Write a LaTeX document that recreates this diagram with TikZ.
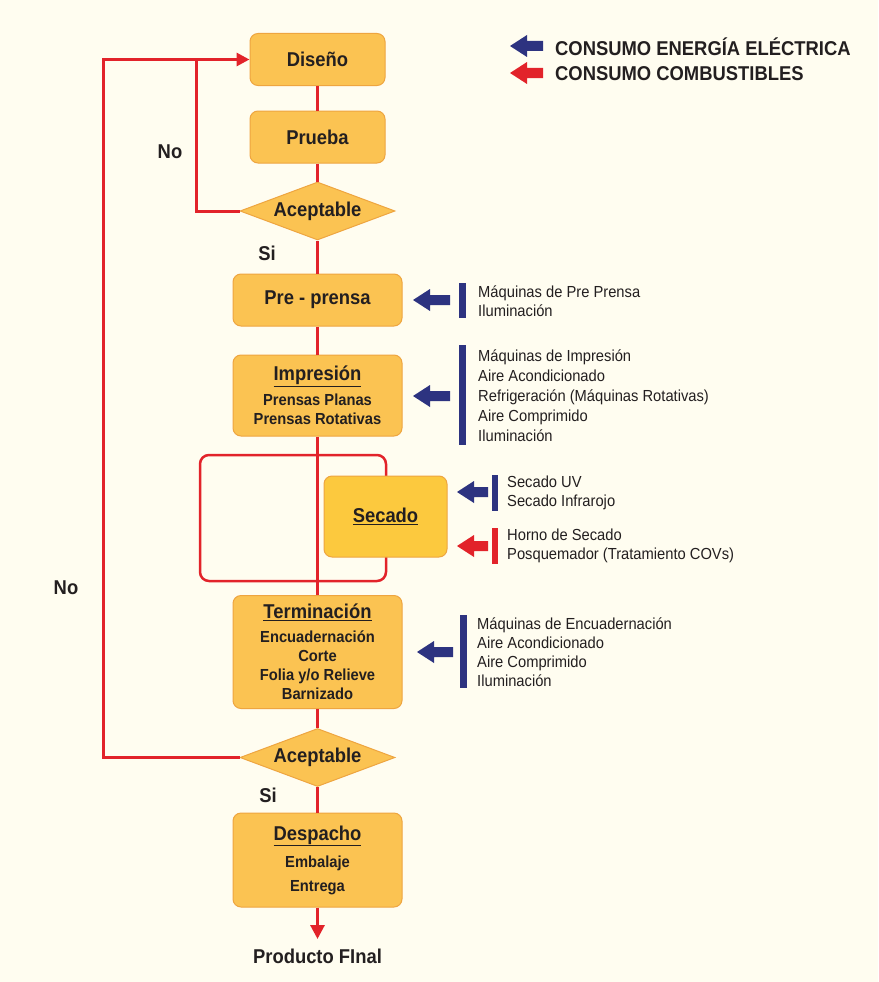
\documentclass[tikz,border=0pt]{standalone}
\usepackage{fontspec}
\setmainfont{Liberation Sans}[FakeStretch=0.92]
\usetikzlibrary{shapes.geometric,arrows.meta}
\definecolor{bgc}{HTML}{FFFDF0}
\definecolor{boxc}{HTML}{FBC352}
\definecolor{secc}{HTML}{FCC93E}
\definecolor{bordc}{HTML}{EEA540}
\definecolor{redc}{HTML}{E2232A}
\definecolor{bluec}{HTML}{2D3380}
\definecolor{txtc}{HTML}{231F20}
\newcommand\blk[4]{\fill[#4] (#1,#2) -- ++(17,-11) -- ++(0,6) -- ++(#3-17,0) -- ++(0,10) -- ++(-#3+17,0) -- ++(0,6) -- cycle;}
\begin{document}
\begin{tikzpicture}[x=1pt,y=-1pt,
  every node/.style={text=txtc},
  proc/.style={draw=bordc,line width=1pt,fill=boxc,rounded corners=8pt,inner sep=0pt,align=center,
     font=\bfseries\fontsize{20}{24}\selectfont},
  dec/.style={draw=bordc,line width=1pt,fill=boxc,diamond,shape aspect=2.67,inner sep=0pt,minimum width=155pt,minimum height=58pt,
     font=\bfseries\fontsize{20}{24}\selectfont},
  flow/.style={draw=redc,line width=3pt},
  lbl/.style={font=\bfseries\fontsize{20}{24}\selectfont},
  small/.style={font=\fontsize{16}{20}\selectfont,align=left,anchor=west,inner sep=0pt},
]
\fill[bgc] (0,0) rectangle (878,982);
\useasboundingbox (0,0) rectangle (878,982);

% legend
\blk{510}{46}{33}{bluec}
\blk{510}{73}{33}{redc}
\node[lbl,anchor=west,inner sep=0pt] (leg1) at (555,47) {CONSUMO ENERGÍA ELÉCTRICA};
\node[lbl,anchor=west,inner sep=0pt] (leg2) at (555,74) {CONSUMO COMBUSTIBLES};

% loop rectangle around secado
\draw[redc,line width=2.5pt,rounded corners=9pt] (200,455) rectangle (386,581);

% nodes
\node[proc,minimum width=135pt,minimum height=52pt] (dis) at (317.5,59.5) {Diseño};
\node[proc,minimum width=135pt,minimum height=52pt] (pru) at (317.5,137) {Prueba};
\node[dec] (ac1) at (317.5,211) {Aceptable};
\node[proc,minimum width=169pt,minimum height=52pt] (pre) at (317.5,300) {Pre - prensa};
\node[proc,minimum width=169pt,minimum height=81pt] (imp) at (317.5,395.5)
  {\underline{Impresión}\\[1pt]{\fontsize{16}{18}\selectfont Prensas Planas}\\[-5pt]{\fontsize{16}{18}\selectfont Prensas Rotativas}};
\node[proc,fill=secc,minimum width=123pt,minimum height=81pt] (sec) at (385.5,516.5) {\underline{Secado}};
\node[proc,minimum width=169pt,minimum height=113pt] (ter) at (317.5,652)
  {\underline{Terminación}\\[0pt]{\fontsize{16}{18}\selectfont Encuadernación}\\[-5pt]{\fontsize{16}{18}\selectfont Corte}\\[-5pt]{\fontsize{16}{18}\selectfont Folia y/o Relieve}\\[-5pt]{\fontsize{16}{18}\selectfont Barnizado}};
\node[dec] (ac2) at (317.5,757.5) {Aceptable};
\node[proc,minimum width=169pt,minimum height=94pt] (des) at (317.5,860)
  {\underline{Despacho}\\[3pt]{\fontsize{16}{18}\selectfont Embalaje}\\[0pt]{\fontsize{16}{18}\selectfont Entrega}};
\node[lbl,inner sep=0pt] (fin) at (317.5,956) {Producto FInal};

% labels
\node[lbl] (no1) at (170,152) {No};
\node[lbl] (no2) at (66,588) {No};
\node[lbl] (si1) at (267,253) {Si};
\node[lbl] (si2) at (268,795) {Si};

% flow lines
\coordinate (xo) at (103,0);
\coordinate (xi) at (196,0);
\draw[flow] (dis) -- (pru);
\draw[flow] (pru) -- (ac1);
\draw[flow] (ac1) -- (pre);
\draw[flow] (pre) -- (imp);
\draw[flow] (imp) -- (ter);
\draw[flow] (ter) -- (ac2);
\draw[flow] (ac2) -- (des);
\coordinate (fintop) at (317.5,939);
\draw[flow,-{Triangle[length=14pt,width=14pt]}] (des.south) -- (fintop);
\draw[flow] (ac2.west) -- (ac2.west -| xo) -- (dis.west -| xo) -- (dis.west -| xi);
\draw[flow,-{Triangle[length=13pt,width=13pt]}] (ac1.west) -- (ac1.west -| xi) -- (dis.west -| xi) -- (dis.west);

% energy arrows and bars
\blk{413}{300}{37}{bluec}
\fill[bluec] (459,283) rectangle (466,318);
\node[small] (tpre) at (478,301.5) {Máquinas de Pre Prensa\\[-1pt]Iluminación};

\blk{413}{396}{37}{bluec}
\fill[bluec] (459,345) rectangle (466,445);
\node[small] (timp) at (478,396) {Máquinas de Impresión\\Aire Acondicionado\\Refrigeración (Máquinas Rotativas)\\Aire Comprimido\\Iluminación};

\blk{457}{492}{31}{bluec}
\fill[bluec] (492,475) rectangle (498,511);
\node[small] (tsec1) at (507,492.5) {Secado UV\\[-1pt]Secado Infrarojo};

\blk{457}{546}{31}{redc}
\fill[redc] (492,528) rectangle (498,564);
\node[small] (tsec2) at (507,546) {Horno de Secado\\[-1pt]Posquemador (Tratamiento COVs)};

\blk{417}{652}{36}{bluec}
\fill[bluec] (460,615) rectangle (467,688);
\node[small] (tter) at (477,652) {Máquinas de Encuadernación\\[-1pt]Aire Acondicionado\\[-1pt]Aire Comprimido\\[-1pt]Iluminación};
\end{tikzpicture}
\end{document}
